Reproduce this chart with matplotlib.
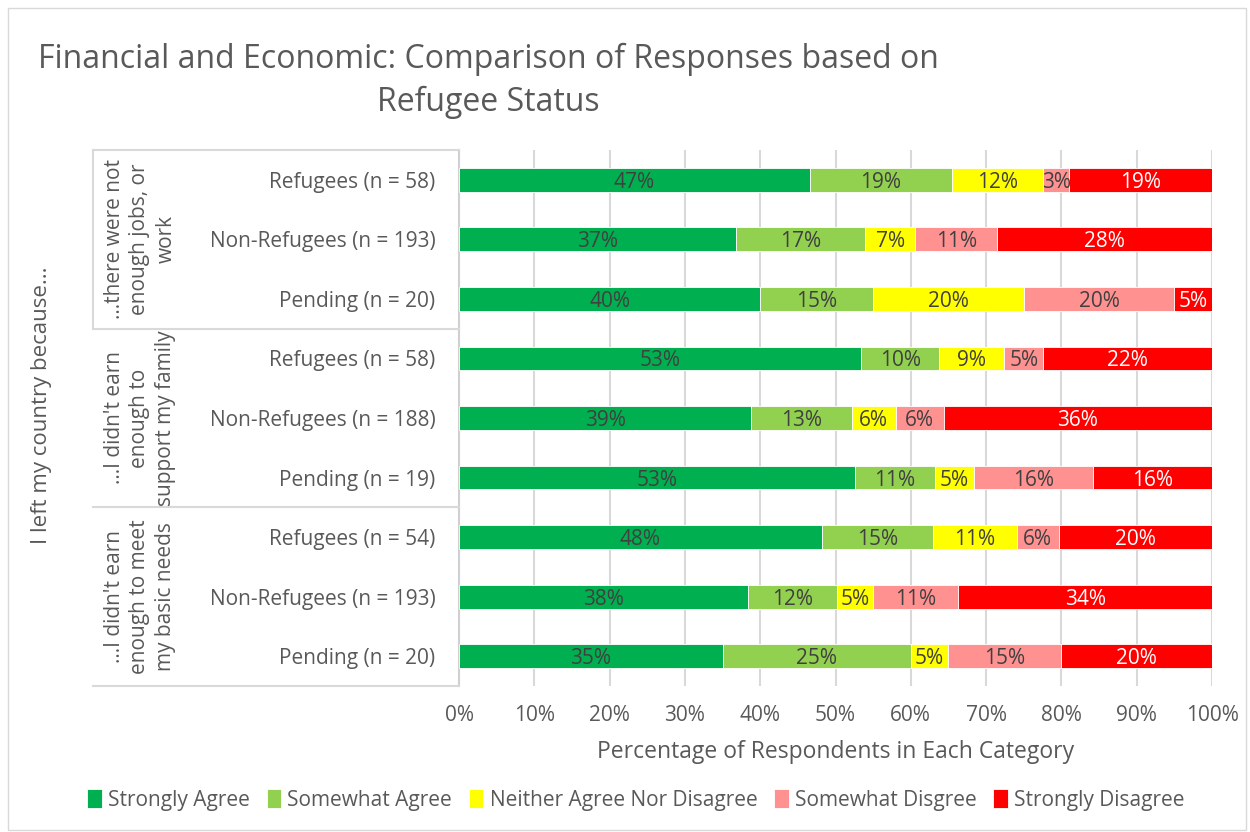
import matplotlib
matplotlib.use("Agg")
import matplotlib.pyplot as plt
from matplotlib.lines import Line2D
from matplotlib.patches import Rectangle
import numpy as np

plt.rcParams["font.family"] = ["Open Sans", "DejaVu Sans"]

# responses, top to bottom (counts per answer)
groups = ["\u2026there were not\nenough jobs, or\nwork",
          "\u2026I didn't earn\nenough to\nsupport my family",
          "\u2026I didn't earn\nenough to meet\nmy basic needs"]
rows = ["Refugees (n = 58)", "Non-Refugees (n = 193)", "Pending (n = 20)",
        "Refugees (n = 58)", "Non-Refugees (n = 188)", "Pending (n = 19)",
        "Refugees (n = 54)", "Non-Refugees (n = 193)", "Pending (n = 20)"]
answers = ["Strongly Agree", "Somewhat Agree", "Neither Agree Nor Disagree",
           "Somewhat Disgree", "Strongly Disagree"]
strongly_agree = [27, 71, 8, 31, 73, 10, 26, 74, 7]
somewhat_agree = [11, 33, 3, 6, 25, 2, 8, 23, 5]
neither = [7, 13, 4, 5, 11, 1, 6, 9, 1]
somewhat_disagree = [2, 21, 4, 3, 12, 3, 3, 22, 3]
strongly_disagree = [11, 55, 1, 13, 67, 3, 11, 65, 4]

colors = ["#00B050", "#92D050", "#FFFF00", "#FF9191", "#FF0000"]
label_colors = ["#404040", "#404040", "#404040", "#404040", "white"]
gray = "#595959"

counts = np.array([strongly_agree, somewhat_agree, neither,
                   somewhat_disagree, strongly_disagree], dtype=float)
shares = counts / counts.sum(axis=0)

fig = plt.figure(figsize=(12.5, 8.32), dpi=100)
ax = fig.add_axes([459 / 1250, 1 - 686 / 832, 753 / 1250, 536 / 832])

y = np.arange(len(rows))
left = np.zeros(len(rows))
for i, name in enumerate(answers):
    ax.barh(y, shares[i], left=left, height=0.4, color=colors[i],
            edgecolor="white", linewidth=0.6, label=name, zorder=3)
    for j in range(len(rows)):
        ax.text(left[j] + shares[i][j] / 2, y[j], f"{shares[i][j]:.0%}",
                ha="center", va="center_baseline", fontsize=15,
                color=label_colors[i], zorder=4)
    left += shares[i]

ax.set_xlim(0, 1)
ax.set_ylim(len(rows) - 0.5, -0.5)
ax.set_xticks(np.arange(0, 1.01, 0.1))
ax.set_xticklabels([f"{v}%" for v in range(0, 101, 10)])
ax.set_yticks(y)
ax.set_yticklabels(rows)
ax.tick_params(axis="both", length=0, labelsize=15, colors=gray)
ax.tick_params(axis="y", pad=17)
ax.tick_params(axis="x", pad=14)
ax.grid(axis="x", color="#D9D9D9", linewidth=1.5, zorder=0)
for s in ["top", "right", "bottom"]:
    ax.spines[s].set_visible(False)
ax.spines["left"].set_color("#D0D0D0")
ax.spines["left"].set_linewidth(1.5)
ax.set_xlabel("Percentage of Respondents in Each Category", fontsize=16.5,
              color=gray, labelpad=10)

# multi-level category lines and group labels
for k in range(len(groups) + 1):
    yy = 1 - (150 + k * 536 / 3) / 832
    fig.add_artist(Line2D([93 / 1250, 459 / 1250], [yy, yy],
                          color="#D9D9D9", linewidth=1.5))
fig.add_artist(Line2D([93 / 1250, 93 / 1250], [1 - 150 / 832, 1 - 329 / 832],
                      color="#D9D9D9", linewidth=1.5))
for k, g in enumerate(groups):
    yc = 1 - (150 + (k + 0.5) * 536 / 3) / 832
    fig.text(140 / 1250, yc, g, rotation=90, ha="center", va="center",
             fontsize=15, color=gray, linespacing=1.3)

fig.text(42 / 1250, 1 - 405 / 832, "I left my country because...",
         rotation=90, ha="center", va="center", fontsize=16, color=gray)

fig.text(488 / 1250, 1 - 81 / 832,
         "Financial and Economic: Comparison of Responses based on\nRefugee Status",
         ha="center", va="center", fontsize=23, color=gray, linespacing=1.4)

leg = fig.legend(loc="center", bbox_to_anchor=(636 / 1250, 1 - 800 / 832),
                 ncol=5, frameon=False, fontsize=15, handlelength=0.7,
                 handleheight=1.0, handletextpad=0.3, columnspacing=0.8)
for t in leg.get_texts():
    t.set_color(gray)

fig.add_artist(Rectangle((8 / 1250, 0.002), 1 - 12 / 1250, 1 - 10 / 832,
                         fill=False, edgecolor="#D9D9D9", linewidth=1))

fig.savefig("out.png", dpi=100, facecolor="white")
